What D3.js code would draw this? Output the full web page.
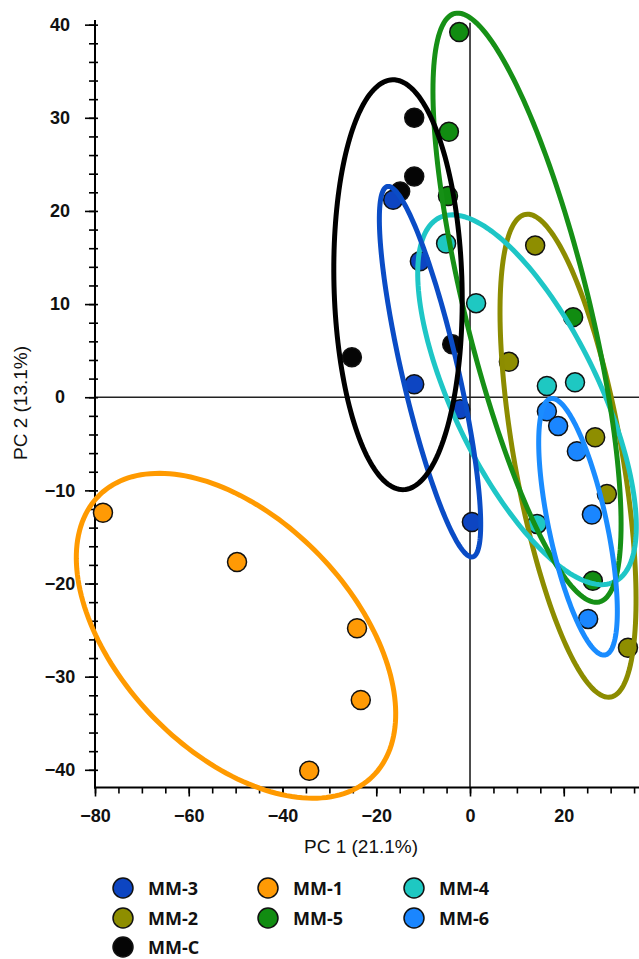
<!DOCTYPE html>
<html>
<head>
<meta charset="utf-8">
<script src="https://cdn.jsdelivr.net/npm/d3@7"></script>
<style>
  html, body { margin: 0; padding: 0; background: #fff; }
  svg { display: block; }
</style>
</head>
<body>
<svg id="chart" width="639" height="959"></svg>
<script>
// ---------------- data ----------------
const groups = ["MM-3", "MM-1", "MM-4", "MM-2", "MM-5", "MM-6", "MM-C"];
const groupColors = ["#0d45c2", "#ff9a05", "#1ec8c2", "#8e8e00", "#118c11", "#1a86ff", "#050505"];
const ellipseColors = ["#0a4cc6", "#ff9a00", "#1ec6c6", "#8c8c00", "#169016", "#1a8cff", "#000000"];

// PC scores per group
const pc1MM3 = [-16.4, -10.7, -11.9, -2.1, 0.4];
const pc2MM3 = [21.2, 14.6, 1.4, -1.3, -13.4];
const pc1MM1 = [-78.3, -49.7, -24.1, -23.3, -34.3];
const pc2MM1 = [-12.4, -17.7, -24.8, -32.5, -40.1];
const pc1MM4 = [-5.1, 1.3, 16.4, 22.4, 14.3];
const pc2MM4 = [16.5, 10.1, 1.2, 1.6, -13.6];
const pc1MM2 = [13.9, 8.3, 26.7, 29.2, 33.7];
const pc2MM2 = [16.3, 3.8, -4.3, -10.4, -26.9];
const pc1MM5 = [-2.3, -4.5, -4.7, 22.0, 26.2];
const pc2MM5 = [39.2, 28.5, 21.6, 8.6, -19.7];
const pc1MM6 = [16.4, 18.8, 22.8, 26.0, 25.2];
const pc2MM6 = [-1.5, -3.1, -5.8, -12.6, -23.8];
const pc1MMC = [-11.9, -11.9, -14.9, -3.8, -25.2];
const pc2MMC = [30.0, 23.7, 22.1, 5.7, 4.3];

// confidence ellipses: center and two conjugate semi-axis vectors (PC units)
const ellipseCenter = [[-8.53, 2.74], [-49.92, -25.61], [12.16, -0.27], [20.91, -6.28], [12.16, 9.61], [23.04, -13.91], [-15.36, 12.08]];
const ellipseAxisA  = [[9.11, -19.88], [29.05, -15.14], [18.62, -19.56], [9.09, -25.91], [15.42, -31.59], [5.81, -13.76], [1.15, -22.0]];
const ellipseAxisB  = [[5.82, 0.68], [17.80, 8.66], [14.04, 3.38], [11.31, 1.01], [12.84, 1.59], [6.05, 0.65], [13.65, 0.18]];

const xTicks = [-80, -60, -40, -20, 0, 20];
const yTicks = [-40, -30, -20, -10, 0, 10, 20, 30, 40];
const xTitle = "PC 1 (21.1%)";
const yTitle = "PC 2 (13.1%)";

// ---------------- chart ----------------
(function () {
const pc1 = [pc1MM3, pc1MM1, pc1MM4, pc1MM2, pc1MM5, pc1MM6, pc1MMC];
const pc2 = [pc2MM3, pc2MM1, pc2MM4, pc2MM2, pc2MM5, pc2MM6, pc2MMC];

const svg = d3.select("#chart");
const mLeft = 95, mRight = 639, mTop = 20, mBottom = 787.5;
const x = d3.scaleLinear().domain([-80, 36.05]).range([mLeft, mRight]);
const y = d3.scaleLinear().domain([-41.9, 40.5]).range([mBottom, mTop]);

const tickFont = "'Liberation Sans', Arial, sans-serif";

// zero lines
svg.append("line").attr("x1", mLeft).attr("x2", mRight).attr("y1", y(0)).attr("y2", y(0))
  .attr("stroke", "#222").attr("stroke-width", 1.6);
svg.append("line").attr("x1", x(0)).attr("x2", x(0)).attr("y1", y(40.2)).attr("y2", mBottom)
  .attr("stroke", "#222").attr("stroke-width", 1.6);

// x axis
const gx = svg.append("g").attr("transform", `translate(0,${mBottom})`);
gx.call(d3.axisBottom(x).tickValues(d3.range(-80, 36, 5)).tickSize(6).tickFormat(""))
  .call(g => g.select(".domain").remove());
gx.selectAll(".tick line").attr("stroke", "#000").attr("stroke-width", 1.6);
const gx2 = svg.append("g").attr("transform", `translate(0,${mBottom})`);
gx2.call(d3.axisBottom(x).tickValues(xTicks).tickSize(9).tickPadding(13).tickFormat(d3.format("d")))
  .call(g => g.select(".domain").remove());
gx2.selectAll(".tick line").attr("stroke", "#000").attr("stroke-width", 1.6);
gx2.selectAll("text").attr("font-family", tickFont).attr("font-size", 18).attr("font-weight", "bold").attr("fill", "#111");
svg.append("line").attr("x1", mLeft - 1).attr("x2", mRight).attr("y1", mBottom).attr("y2", mBottom)
  .attr("stroke", "#000").attr("stroke-width", 2);

// y axis
const gy = svg.append("g").attr("transform", `translate(${mLeft + 3},0)`);
gy.call(d3.axisLeft(y).tickValues(d3.range(-40, 41, 2)).tickSize(9).tickFormat(""))
  .call(g => g.select(".domain").remove());
gy.selectAll(".tick line").attr("stroke", "#000").attr("stroke-width", 1.6);
const gy2 = svg.append("g").attr("transform", `translate(${mLeft},0)`);
gy2.call(d3.axisLeft(y).tickValues(yTicks).tickSize(10).tickPadding(0).tickFormat(d3.format("d")))
  .call(g => g.select(".domain").remove());
gy2.selectAll(".tick line").attr("stroke", "#000").attr("stroke-width", 1.6);
gy2.selectAll("text").attr("font-family", tickFont).attr("font-size", 18).attr("font-weight", "bold")
  .attr("fill", "#111").attr("text-anchor", "middle").attr("x", 60 - mLeft);
svg.append("line").attr("x1", mLeft).attr("x2", mLeft).attr("y1", mTop).attr("y2", mBottom + 1)
  .attr("stroke", "#000").attr("stroke-width", 2);

// axis titles
svg.append("text").attr("x", 361).attr("y", 853).attr("text-anchor", "middle")
  .attr("font-family", tickFont).attr("font-size", 19).attr("fill", "#111").text(xTitle);
svg.append("text").attr("transform", `translate(27,403) rotate(-90)`).attr("text-anchor", "middle")
  .attr("font-family", tickFont).attr("font-size", 19).attr("fill", "#111").text(yTitle);

// points
const drawOrder = [6, 1, 3, 2, 4, 5, 0];
const gp = svg.append("g");
drawOrder.forEach(i => {
  const pts = pc1[i].map((v, k) => [v, pc2[i][k]]);
  gp.selectAll(null).data(pts).enter().append("circle")
    .attr("cx", d => x(d[0])).attr("cy", d => y(d[1])).attr("r", 9.5)
    .attr("fill", groupColors[i]).attr("stroke", "#111").attr("stroke-width", 1.5);
});

// ellipses
const ellOrder = [1, 3, 2, 4, 5, 0, 6];
const line = d3.line().x(d => x(d[0])).y(d => y(d[1])).curve(d3.curveLinearClosed);
const ts = d3.range(0, 360, 2).map(a => a * Math.PI / 180);
ellOrder.forEach(i => {
  const c = ellipseCenter[i], a = ellipseAxisA[i], b = ellipseAxisB[i];
  const path = ts.map(t => [c[0] + a[0] * Math.cos(t) + b[0] * Math.sin(t), c[1] + a[1] * Math.cos(t) + b[1] * Math.sin(t)]);
  svg.append("path").attr("d", line(path)).attr("fill", "none")
    .attr("stroke", ellipseColors[i]).attr("stroke-width", 5);
});

// legend
const legCols = [123, 268, 414], legRows = [888, 918, 947];
groups.forEach((g, i) => {
  const cx = legCols[i % 3], cy = legRows[Math.floor(i / 3)];
  svg.append("circle").attr("cx", cx).attr("cy", cy).attr("r", 10)
    .attr("fill", groupColors[i]).attr("stroke", "#111").attr("stroke-width", 1.5);
  svg.append("text").attr("x", cx + 25).attr("y", cy + 6.5)
    .attr("font-family", "'Open Sans', 'Liberation Sans', sans-serif").attr("font-weight", "bold")
    .attr("font-size", 18).attr("fill", "#111").text(g);
});
})();
</script>
</body>
</html>
